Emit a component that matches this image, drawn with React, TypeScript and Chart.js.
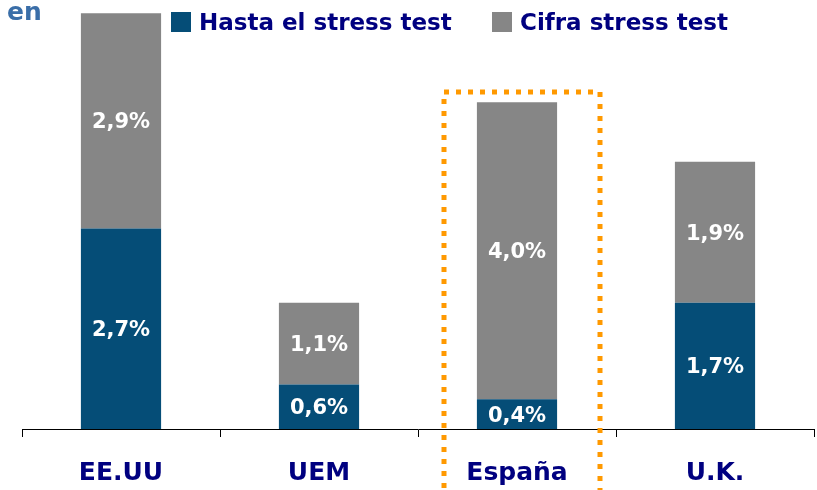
import React, { useEffect, useRef } from "react";
import { Chart, registerables } from "chart.js";

Chart.register(...registerables);

const categories = ["EE.UU", "UEM", "España", "U.K."];
const hastaValues = [2.7, 0.6, 0.4, 1.7];
const cifraValues = [2.9, 1.1, 4.0, 1.9];
const seriesNames = ["Hasta el stress test", "Cifra stress test"];
const titleText = "en";

const BLUE = "#054D77";
const GRAY = "#868686";
const NAVY = "#000080";
const ORANGE = "#FF9900";
const FONT = "'DejaVu Sans', Verdana, sans-serif";

const fmt = (v: number) => v.toFixed(1).replace(".", ",") + "%";

export default function App() {
  const ref = useRef<HTMLCanvasElement | null>(null);
  useEffect(() => {
    if (!ref.current) return;
    const labelsPlugin = {
      id: "segLabels",
      afterDatasetsDraw(chart: any) {
        const ctx = chart.ctx;
        ctx.save();
        ctx.fillStyle = "#FFFFFF";
        ctx.font = `bold 21px ${FONT}`;
        ctx.textAlign = "center";
        ctx.textBaseline = "middle";
        chart.data.datasets.forEach((ds: any, di: number) => {
          const meta = chart.getDatasetMeta(di);
          meta.data.forEach((el: any, i: number) => {
            const p = el.getProps(["x", "y", "base"], true);
            ctx.fillText(fmt(ds.data[i]), p.x, (p.y + p.base) / 2 + 2);
          });
        });
        ctx.restore();
      },
      afterDraw(chart: any) {
        const ctx = chart.ctx;
        ctx.save();
        // title fragment
        ctx.fillStyle = "#3A6EA8";
        ctx.font = `bold 25px ${FONT}`;
        ctx.textAlign = "left";
        ctx.textBaseline = "alphabetic";
        ctx.fillText(titleText, 7, 20);
        // legend
        const items = [
          { x: 171, color: BLUE, text: seriesNames[0] },
          { x: 492, color: GRAY, text: seriesNames[1] },
        ];
        ctx.font = `bold 23px ${FONT}`;
        items.forEach((it) => {
          ctx.fillStyle = it.color;
          ctx.fillRect(it.x, 12, 20, 20);
          ctx.fillStyle = NAVY;
          ctx.fillText(it.text, it.x + 28, 30);
        });
        // highlight box around España
        const xs = chart.scales.x;
        const cx = xs.getPixelForValue(2);
        const left = cx - 73;
        const right = cx + 83;
        const top = 92;
        ctx.strokeStyle = ORANGE;
        ctx.lineWidth = 5;
        ctx.setLineDash([5, 7]);
        ctx.beginPath();
        ctx.moveTo(left, 500);
        ctx.lineTo(left, top);
        ctx.lineTo(right, top);
        ctx.lineTo(right, 500);
        ctx.stroke();
        ctx.restore();
      },
    };
    const chart = new Chart(ref.current, {
      type: "bar",
      data: {
        labels: categories,
        datasets: [
          { label: seriesNames[0], data: hastaValues, backgroundColor: BLUE, borderWidth: 0 },
          { label: seriesNames[1], data: cifraValues, backgroundColor: GRAY, borderWidth: 0 },
        ],
      },
      options: {
        animation: false,
        responsive: false,
        maintainAspectRatio: false,
        layout: { padding: { left: 22, right: 3, top: 11, bottom: -19 } },
        datasets: { bar: { categoryPercentage: 1, barPercentage: 0.405 } },
        plugins: { legend: { display: false }, tooltip: { enabled: false }, title: { display: false } },
        scales: {
          x: {
            stacked: true,
            border: { display: true, color: "#000000", width: 1 },
            grid: { display: true, drawOnChartArea: false, drawTicks: true, tickLength: 8, color: "#000000", offset: true },
            ticks: { color: NAVY, font: { family: FONT, size: 25, weight: "bold", lineHeight: 1.2 }, padding: 21, maxRotation: 0 },
          },
          y: {
            stacked: true,
            display: false,
            min: 0,
            max: 5.63,
          },
        },
      },
      plugins: [labelsPlugin],
    });
    return () => chart.destroy();
  }, []);
  return (
    <div style={{ position: "absolute", left: 0, top: 0, width: 817, height: 490, background: "#fff" }}>
      <canvas ref={ref} width={817} height={490} style={{ display: "block" }} />
    </div>
  );
}
